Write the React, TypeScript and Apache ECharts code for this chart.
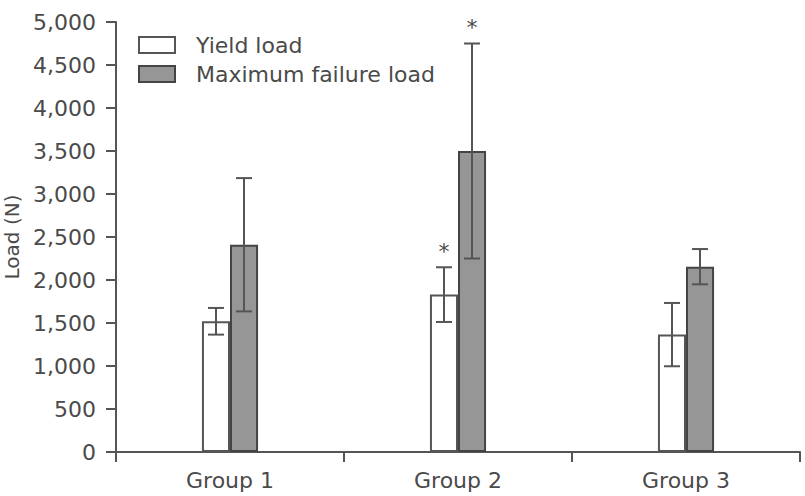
import React, { useEffect, useRef } from "react";
import * as echarts from "echarts";

const groups = ["Group 1", "Group 2", "Group 3"];
const yieldLoad = [1520, 1830, 1365];
const yieldSD = [155, 318, 368];
const maxLoad = [2410, 3500, 2155];
const maxSD = [775, 1250, 205];
const yieldMark = ["", "*", ""];
const maxMark = ["", "*", ""];
const yTicks = [0, 500, 1000, 1500, 2000, 2500, 3000, 3500, 4000, 4500, 5000];

const FONT = "'DejaVu Sans', 'Liberation Sans', Arial, sans-serif";
const TEXT = "#4a4a4a";
const AXIS = "#555555";
const BAR_FRAC = 0.123;

function errorSeries(name: string, means: number[], sds: number[], marks: string[], side: number) {
  return {
    type: "custom",
    name,
    silent: true,
    z: 5,
    data: means.map((m, i) => [i, m, m - sds[i], m + sds[i]]),
    renderItem: (params: any, api: any) => {
      const band = api.size([1, 0])[0];
      const barW = band * BAR_FRAC;
      const base = api.coord([api.value(0), api.value(1)]);
      const x = base[0] + (side * barW) / 2;
      const lo = api.coord([api.value(0), api.value(2)])[1];
      const hi = api.coord([api.value(0), api.value(3)])[1];
      const cap = 8;
      const style = { stroke: AXIS, lineWidth: 2 };
      const children: any[] = [
        { type: "line", shape: { x1: x, y1: lo, x2: x, y2: hi }, style },
        { type: "line", shape: { x1: x - cap, y1: hi, x2: x + cap, y2: hi }, style },
        { type: "line", shape: { x1: x - cap, y1: lo, x2: x + cap, y2: lo }, style },
      ];
      const mark = marks[params.dataIndex];
      if (mark) {
        children.push({
          type: "text",
          style: {
            text: mark,
            x,
            y: hi - 5,
            align: "center",
            verticalAlign: "bottom",
            fill: TEXT,
            fontSize: 22,
            fontFamily: FONT,
          },
        });
      }
      return { type: "group", children };
    },
  };
}

export default function App() {
  const ref = useRef<HTMLDivElement>(null);

  useEffect(() => {
    document.body.style.margin = "0";
    const chart = echarts.init(ref.current!, null, { renderer: "svg" });
    chart.setOption({
      animation: false,
      backgroundColor: "#ffffff",
      textStyle: { fontFamily: FONT, color: TEXT },
      grid: {
        left: 116,
        right: 5,
        top: 22,
        bottom: 44,
        containLabel: false,
        outerBoundsMode: "none",
      },
      legend: {
        orient: "vertical",
        left: 133,
        top: 28,
        itemWidth: 36,
        itemHeight: 16,
        itemGap: 5,
        icon: "rect",
        data: ["Yield load", "Maximum failure load"],
        textStyle: {
          fontSize: 22,
          lineHeight: 24,
          color: TEXT,
          fontFamily: FONT,
          padding: [0, 0, 0, 16],
        },
      },
      xAxis: {
        type: "category",
        data: groups,
        axisLine: { lineStyle: { color: AXIS, width: 2 } },
        axisTick: { show: true, alignWithLabel: false, length: 10, lineStyle: { color: AXIS, width: 2 } },
        axisLabel: { fontSize: 22, color: TEXT, fontFamily: FONT, margin: 17 },
      },
      yAxis: {
        type: "value",
        min: yTicks[0],
        max: yTicks[yTicks.length - 1],
        interval: 500,
        name: "Load (N)",
        nameLocation: "middle",
        nameGap: 94,
        nameRotate: 90,
        nameTextStyle: { fontSize: 20, lineHeight: 20, color: TEXT, fontFamily: FONT },
        axisLine: { show: true, lineStyle: { color: AXIS, width: 2 } },
        axisTick: { show: true, length: 10, lineStyle: { color: AXIS, width: 2 } },
        axisLabel: {
          fontSize: 22,
          color: TEXT,
          fontFamily: FONT,
          margin: 20,
          formatter: (v: number) => v.toLocaleString("en-US"),
        },
        splitLine: { show: false },
      },
      series: [
        {
          type: "bar",
          name: "Yield load",
          data: yieldLoad,
          barWidth: `${BAR_FRAC * 100}%`,
          barGap: "0%",
          itemStyle: { color: "#ffffff", borderColor: AXIS, borderWidth: 2 },
        },
        {
          type: "bar",
          name: "Maximum failure load",
          data: maxLoad,
          barWidth: `${BAR_FRAC * 100}%`,
          barGap: "0%",
          itemStyle: { color: "#969696", borderColor: "#444444", borderWidth: 2 },
        },
        errorSeries("Yield load SD", yieldLoad, yieldSD, yieldMark, -1),
        errorSeries("Maximum failure load SD", maxLoad, maxSD, maxMark, 1),
      ],
    });
    return () => chart.dispose();
  }, []);

  return <div ref={ref} style={{ width: 805, height: 496 }} />;
}
